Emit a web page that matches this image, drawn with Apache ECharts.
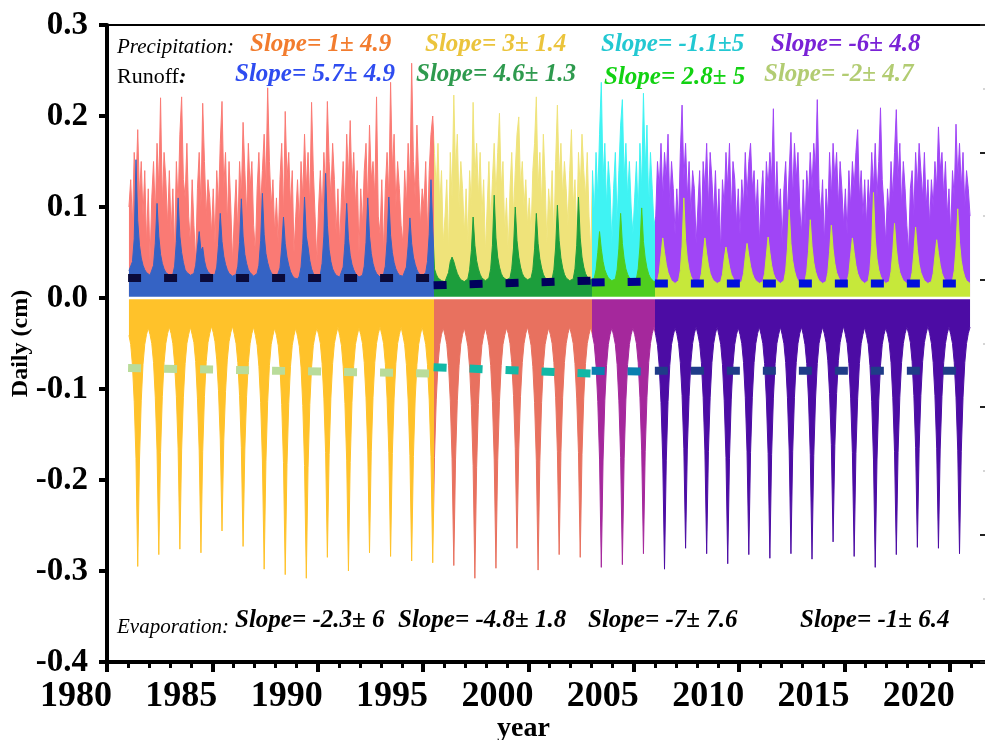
<!DOCTYPE html>
<html><head><meta charset="utf-8">
<script src="https://cdn.jsdelivr.net/npm/echarts@6/dist/echarts.min.js"></script>
<style>html,body{margin:0;padding:0;overflow:hidden;background:#fff;width:985px;height:740px}#c{width:1000px;height:740px}</style>
</head><body><div id="c"></div><script>
// ---------------- DATA ----------------
const startYear = 1981;                 // first year of monthly records (Jan..Dec per row)
const periodBreaks = [1981, 1995.5, 2003, 2006, 2021];

// Precipitation (cm/day), monthly, 1981..2020
const precipRows = [
 [0.10,0.13,0.08,0.16,0.12,0.185,0.11,0.15,0.09,0.14,0.06,0.12],
 [0.04,0.11,0.15,0.09,0.17,0.12,0.22,0.10,0.16,0.13,0.08,0.14],
 [0.07,0.12,0.05,0.15,0.10,0.18,0.221,0.13,0.11,0.17,0.09,0.06],
 [0.13,0.08,0.04,0.12,0.16,0.10,0.214,0.15,0.09,0.13,0.11,0.07],
 [0.12,0.06,0.14,0.10,0.17,0.216,0.12,0.16,0.08,0.15,0.10,0.04],
 [0.09,0.13,0.07,0.15,0.11,0.193,0.14,0.09,0.17,0.12,0.15,0.08],
 [0.05,0.12,0.16,0.10,0.14,0.18,0.12,0.231,0.15,0.10,0.13,0.07],
 [0.11,0.06,0.13,0.17,0.09,0.205,0.13,0.16,0.10,0.14,0.05,0.09],
 [0.13,0.08,0.15,0.11,0.18,0.12,0.16,0.10,0.215,0.14,0.09,0.04],
 [0.10,0.14,0.09,0.16,0.12,0.216,0.15,0.11,0.17,0.13,0.07,0.12],
 [0.06,0.11,0.15,0.09,0.18,0.13,0.195,0.12,0.16,0.10,0.14,0.05],
 [0.12,0.08,0.14,0.17,0.10,0.19,0.13,0.15,0.11,0.221,0.09,0.07],
 [0.13,0.05,0.12,0.16,0.11,0.237,0.14,0.18,0.10,0.15,0.12,0.08],
 [0.06,0.14,0.10,0.17,0.12,0.258,0.15,0.11,0.19,0.13,0.08,0.12],
 [0.10,0.15,0.07,0.14,0.18,0.20,0.159,0.12,0.17,0.10,0.14,0.06],
 [0.09,0.13,0.05,0.16,0.11,0.223,0.14,0.18,0.10,0.15,0.12,0.07],
 [0.12,0.06,0.14,0.10,0.215,0.13,0.17,0.11,0.16,0.09,0.13,0.05],
 [0.10,0.15,0.08,0.13,0.17,0.11,0.16,0.203,0.12,0.15,0.07,0.11],
 [0.05,0.12,0.16,0.09,0.14,0.18,0.199,0.12,0.15,0.10,0.13,0.08],
 [0.11,0.07,0.14,0.17,0.221,0.12,0.16,0.10,0.18,0.13,0.06,0.12],
 [0.09,0.14,0.06,0.15,0.212,0.13,0.17,0.11,0.15,0.12,0.08,0.14],
 [0.185,0.10,0.13,0.07,0.16,0.12,0.18,0.14,0.11,0.16,0.09,0.05],
 [0.14,0.09,0.16,0.11,0.18,0.237,0.13,0.17,0.10,0.15,0.12,0.06],
 [0.12,0.16,0.08,0.14,0.19,0.218,0.13,0.17,0.11,0.15,0.10,0.07],
 [0.11,0.15,0.09,0.17,0.12,0.225,0.14,0.19,0.10,0.16,0.12,0.08],
 [0.09,0.15,0.12,0.17,0.11,0.16,0.13,0.18,0.10,0.15,0.12,0.07],
 [0.12,0.08,0.16,0.212,0.13,0.17,0.11,0.15,0.09,0.14,0.12,0.06],
 [0.10,0.14,0.07,0.15,0.12,0.17,0.10,0.16,0.13,0.09,0.14,0.08],
 [0.12,0.05,0.13,0.10,0.16,0.12,0.17,0.09,0.15,0.13,0.08,0.12],
 [0.07,0.13,0.10,0.16,0.11,0.15,0.17,0.12,0.14,0.09,0.13,0.06],
 [0.11,0.14,0.08,0.15,0.12,0.16,0.13,0.208,0.10,0.15,0.09,0.12],
 [0.06,0.12,0.15,0.09,0.14,0.182,0.11,0.17,0.13,0.16,0.10,0.07],
 [0.13,0.08,0.14,0.11,0.16,0.12,0.17,0.14,0.218,0.12,0.09,0.13],
 [0.06,0.12,0.09,0.16,0.11,0.17,0.13,0.16,0.10,0.15,0.12,0.08],
 [0.12,0.07,0.14,0.10,0.15,0.12,0.16,0.185,0.11,0.14,0.09,0.13],
 [0.08,0.13,0.10,0.16,0.12,0.17,0.11,0.15,0.209,0.13,0.10,0.06],
 [0.12,0.09,0.15,0.11,0.16,0.207,0.13,0.17,0.10,0.15,0.12,0.08],
 [0.05,0.12,0.14,0.09,0.16,0.12,0.17,0.14,0.11,0.16,0.10,0.13],
 [0.08,0.13,0.10,0.15,0.12,0.188,0.14,0.16,0.11,0.15,0.09,0.12],
 [0.07,0.14,0.11,0.191,0.13,0.17,0.12,0.16,0.10,0.14,0.12,0.09]
];

// Runoff (cm/day), monthly, 1981..2020
const runoffRows = [
 [0.030,0.032,0.040,0.065,0.152,0.085,0.058,0.044,0.036,0.031,0.028,0.026],
 [0.025,0.027,0.036,0.060,0.104,0.068,0.048,0.038,0.032,0.028,0.026,0.025],
 [0.024,0.026,0.035,0.062,0.110,0.068,0.050,0.039,0.031,0.028,0.026,0.025],
 [0.025,0.027,0.036,0.055,0.073,0.052,0.056,0.041,0.033,0.029,0.027,0.025],
 [0.024,0.026,0.034,0.058,0.093,0.062,0.046,0.037,0.031,0.027,0.025,0.024],
 [0.024,0.026,0.035,0.061,0.109,0.068,0.048,0.038,0.031,0.028,0.026,0.024],
 [0.024,0.027,0.036,0.063,0.115,0.070,0.049,0.039,0.032,0.028,0.025,0.023],
 [0.022,0.024,0.033,0.056,0.089,0.060,0.045,0.036,0.029,0.025,0.022,0.020],
 [0.021,0.024,0.034,0.060,0.111,0.068,0.056,0.041,0.032,0.027,0.025,0.023],
 [0.023,0.026,0.038,0.068,0.137,0.080,0.053,0.040,0.032,0.028,0.025,0.023],
 [0.023,0.025,0.034,0.060,0.104,0.065,0.047,0.037,0.031,0.027,0.025,0.023],
 [0.023,0.025,0.035,0.061,0.110,0.068,0.049,0.038,0.031,0.027,0.025,0.023],
 [0.024,0.026,0.035,0.062,0.111,0.069,0.050,0.039,0.032,0.028,0.025,0.024],
 [0.024,0.026,0.034,0.057,0.088,0.060,0.045,0.037,0.031,0.027,0.025,0.024],
 [0.025,0.028,0.040,0.070,0.130,0.078,0.032,0.026,0.022,0.020,0.019,0.018],
 [0.018,0.020,0.028,0.040,0.045,0.040,0.033,0.027,0.023,0.020,0.019,0.018],
 [0.019,0.021,0.031,0.052,0.089,0.058,0.041,0.032,0.026,0.022,0.020,0.019],
 [0.019,0.022,0.032,0.058,0.113,0.066,0.045,0.034,0.027,0.023,0.021,0.020],
 [0.020,0.022,0.032,0.055,0.100,0.063,0.045,0.034,0.027,0.023,0.021,0.020],
 [0.020,0.022,0.031,0.054,0.093,0.060,0.043,0.033,0.026,0.022,0.020,0.019],
 [0.019,0.021,0.031,0.056,0.102,0.063,0.044,0.033,0.026,0.022,0.020,0.019],
 [0.019,0.021,0.032,0.058,0.111,0.066,0.045,0.034,0.027,0.023,0.021,0.020],
 [0.020,0.022,0.031,0.050,0.073,0.054,0.040,0.031,0.026,0.022,0.020,0.019],
 [0.019,0.021,0.031,0.054,0.093,0.060,0.043,0.032,0.026,0.022,0.020,0.019],
 [0.019,0.021,0.032,0.056,0.099,0.062,0.044,0.033,0.026,0.022,0.020,0.018],
 [0.017,0.019,0.028,0.047,0.066,0.050,0.037,0.028,0.023,0.019,0.017,0.016],
 [0.016,0.019,0.030,0.057,0.110,0.064,0.043,0.031,0.024,0.020,0.018,0.016],
 [0.016,0.018,0.027,0.047,0.066,0.049,0.036,0.027,0.022,0.019,0.017,0.016],
 [0.016,0.018,0.026,0.043,0.056,0.045,0.034,0.026,0.022,0.018,0.017,0.016],
 [0.016,0.018,0.027,0.045,0.060,0.047,0.035,0.027,0.022,0.019,0.017,0.016],
 [0.016,0.018,0.027,0.047,0.067,0.050,0.036,0.027,0.022,0.019,0.017,0.016],
 [0.016,0.019,0.030,0.054,0.097,0.060,0.041,0.030,0.023,0.019,0.017,0.016],
 [0.016,0.018,0.029,0.051,0.086,0.057,0.039,0.029,0.023,0.019,0.017,0.016],
 [0.016,0.018,0.028,0.050,0.080,0.054,0.038,0.028,0.023,0.019,0.017,0.016],
 [0.016,0.018,0.027,0.047,0.066,0.050,0.036,0.027,0.022,0.019,0.017,0.016],
 [0.016,0.019,0.031,0.058,0.116,0.066,0.043,0.031,0.024,0.020,0.018,0.016],
 [0.016,0.018,0.029,0.051,0.082,0.055,0.038,0.028,0.023,0.019,0.017,0.016],
 [0.016,0.018,0.028,0.050,0.078,0.053,0.037,0.028,0.023,0.019,0.017,0.016],
 [0.016,0.018,0.027,0.046,0.064,0.049,0.036,0.027,0.022,0.019,0.017,0.016],
 [0.016,0.019,0.030,0.055,0.098,0.061,0.041,0.030,0.023,0.019,0.017,0.016]
];

// Evaporation (cm/day, negative), monthly, 1981..2020
const evapRows = [
 [-0.041,-0.051,-0.074,-0.114,-0.176,-0.295,-0.178,-0.113,-0.073,-0.051,-0.040,-0.033],
 [-0.040,-0.050,-0.071,-0.109,-0.168,-0.282,-0.170,-0.108,-0.071,-0.050,-0.039,-0.032],
 [-0.039,-0.050,-0.072,-0.108,-0.165,-0.276,-0.167,-0.109,-0.072,-0.050,-0.040,-0.032],
 [-0.040,-0.049,-0.070,-0.110,-0.168,-0.280,-0.169,-0.108,-0.070,-0.049,-0.039,-0.031],
 [-0.038,-0.048,-0.068,-0.102,-0.155,-0.256,-0.157,-0.103,-0.068,-0.048,-0.038,-0.031],
 [-0.040,-0.050,-0.071,-0.107,-0.164,-0.273,-0.166,-0.108,-0.071,-0.050,-0.039,-0.032],
 [-0.041,-0.052,-0.075,-0.115,-0.178,-0.298,-0.180,-0.114,-0.074,-0.051,-0.041,-0.033],
 [-0.041,-0.052,-0.075,-0.117,-0.181,-0.304,-0.183,-0.116,-0.075,-0.052,-0.041,-0.033],
 [-0.042,-0.053,-0.076,-0.118,-0.184,-0.308,-0.186,-0.117,-0.076,-0.052,-0.041,-0.033],
 [-0.040,-0.050,-0.072,-0.110,-0.170,-0.285,-0.172,-0.110,-0.072,-0.050,-0.040,-0.032],
 [-0.041,-0.052,-0.075,-0.116,-0.179,-0.300,-0.181,-0.115,-0.074,-0.051,-0.041,-0.033],
 [-0.040,-0.050,-0.071,-0.109,-0.167,-0.280,-0.169,-0.109,-0.071,-0.050,-0.039,-0.032],
 [-0.040,-0.050,-0.072,-0.110,-0.170,-0.284,-0.171,-0.110,-0.072,-0.050,-0.040,-0.032],
 [-0.041,-0.051,-0.073,-0.112,-0.173,-0.289,-0.174,-0.111,-0.073,-0.051,-0.040,-0.032],
 [-0.041,-0.051,-0.073,-0.112,-0.174,-0.291,-0.175,-0.112,-0.073,-0.051,-0.040,-0.033],
 [-0.041,-0.051,-0.074,-0.113,-0.176,-0.294,-0.177,-0.113,-0.074,-0.051,-0.040,-0.033],
 [-0.042,-0.053,-0.076,-0.118,-0.184,-0.308,-0.186,-0.117,-0.076,-0.052,-0.041,-0.033],
 [-0.041,-0.052,-0.074,-0.114,-0.177,-0.297,-0.179,-0.114,-0.074,-0.051,-0.041,-0.033],
 [-0.039,-0.050,-0.071,-0.107,-0.165,-0.275,-0.166,-0.108,-0.071,-0.050,-0.039,-0.032],
 [-0.041,-0.052,-0.075,-0.115,-0.179,-0.299,-0.180,-0.115,-0.074,-0.051,-0.041,-0.033],
 [-0.040,-0.050,-0.071,-0.109,-0.169,-0.282,-0.170,-0.109,-0.071,-0.050,-0.039,-0.032],
 [-0.040,-0.050,-0.072,-0.110,-0.170,-0.285,-0.172,-0.110,-0.072,-0.050,-0.040,-0.032],
 [-0.041,-0.051,-0.074,-0.114,-0.177,-0.296,-0.178,-0.113,-0.074,-0.051,-0.040,-0.033],
 [-0.041,-0.051,-0.073,-0.113,-0.175,-0.293,-0.176,-0.112,-0.073,-0.051,-0.040,-0.033],
 [-0.040,-0.050,-0.071,-0.109,-0.168,-0.281,-0.169,-0.109,-0.071,-0.050,-0.039,-0.032],
 [-0.041,-0.052,-0.075,-0.115,-0.178,-0.298,-0.179,-0.114,-0.074,-0.051,-0.041,-0.033],
 [-0.039,-0.050,-0.071,-0.107,-0.165,-0.275,-0.166,-0.108,-0.071,-0.050,-0.039,-0.032],
 [-0.040,-0.050,-0.071,-0.109,-0.168,-0.281,-0.169,-0.109,-0.071,-0.050,-0.039,-0.032],
 [-0.041,-0.051,-0.073,-0.113,-0.175,-0.292,-0.176,-0.112,-0.073,-0.051,-0.040,-0.033],
 [-0.040,-0.050,-0.071,-0.109,-0.169,-0.282,-0.170,-0.109,-0.071,-0.050,-0.039,-0.032],
 [-0.040,-0.050,-0.072,-0.111,-0.171,-0.286,-0.172,-0.110,-0.072,-0.050,-0.040,-0.032],
 [-0.040,-0.050,-0.071,-0.109,-0.168,-0.281,-0.169,-0.109,-0.071,-0.050,-0.039,-0.032],
 [-0.040,-0.051,-0.072,-0.111,-0.172,-0.287,-0.173,-0.111,-0.072,-0.050,-0.040,-0.032],
 [-0.039,-0.049,-0.069,-0.105,-0.161,-0.268,-0.162,-0.105,-0.069,-0.049,-0.039,-0.031],
 [-0.040,-0.050,-0.072,-0.110,-0.170,-0.284,-0.171,-0.110,-0.072,-0.050,-0.040,-0.032],
 [-0.041,-0.051,-0.074,-0.114,-0.177,-0.296,-0.178,-0.113,-0.074,-0.051,-0.040,-0.033],
 [-0.040,-0.050,-0.071,-0.109,-0.169,-0.282,-0.170,-0.109,-0.071,-0.050,-0.039,-0.032],
 [-0.039,-0.049,-0.070,-0.107,-0.164,-0.274,-0.165,-0.107,-0.070,-0.049,-0.039,-0.031],
 [-0.039,-0.050,-0.071,-0.107,-0.165,-0.275,-0.166,-0.108,-0.071,-0.050,-0.039,-0.032],
 [-0.040,-0.050,-0.071,-0.109,-0.168,-0.281,-0.169,-0.109,-0.071,-0.050,-0.039,-0.032]
];

// Period mean (trend) lines: value at period start / end
const runoffMeanStart = [0.022, 0.014, 0.017, 0.016];
const runoffMeanEnd   = [0.022, 0.019, 0.018, 0.016];
const evapMeanStart   = [-0.077, -0.076, -0.080, -0.080];
const evapMeanEnd     = [-0.083, -0.083, -0.081, -0.080];

// Annotation texts
const precipSlopes = ['Slope= 1\u00b1 4.9', 'Slope= 3\u00b1 1.4', 'Slope= -1.1\u00b15', 'Slope= -6\u00b1 4.8'];
const runoffSlopes = ['Slope= 5.7\u00b1 4.9', 'Slope= 4.6\u00b1 1.3', 'Slope= 2.8\u00b1 5', 'Slope= -2\u00b1 4.7'];
const evapSlopes   = ['Slope= -2.3\u00b1 6', 'Slope= -4.8\u00b1 1.8', 'Slope= -7\u00b1 7.6', 'Slope= -1\u00b1 6.4'];

// ---------------- STYLE ----------------
const precipColors = ['#FA7A74', '#EFE37A', '#3FF3F3', '#A045F6'];
const runoffColors = ['#3563C4', '#1C9E3C', '#4FCE1E', '#C6E83A'];
const evapColors   = ['#FFC22A', '#E8715F', '#A5289C', '#4C0CA4'];
const runoffMeanColors = ['#0B0B3B', '#00005C', '#00008E', '#0010DC'];
const evapMeanColors   = ['#B9DC9A', '#12B8A6', '#0A7FB0', '#1F3C88'];
const precipTextColors = ['#F27C2E', '#EBC43C', '#22C8D2', '#7A22D6'];
const runoffTextColors = ['#2E4CF0', '#2E9A4E', '#12D212', '#B2CC72'];
const FONT = '"Liberation Serif","Times New Roman",serif';

// ---------------- BUILD ----------------
function monthly(rows) {
  const out = [];
  rows.forEach((r, yi) => r.forEach((v, m) => out.push([startYear + yi + (m + 0.5) / 12, v])));
  return out;
}
function pieces(colors) {
  return colors.map((c, i) => ({ gte: periodBreaks[i], lt: periodBreaks[i + 1], color: c }));
}
function areaSeries(name, data, z) {
  return { type: 'line', name, data, symbol: 'none', showSymbol: false, silent: true,
    lineStyle: { width: 1 }, areaStyle: { opacity: 1 }, z, animation: false };
}
function meanSeries(starts, ends, colors) {
  return starts.map((s, i) => ({
    type: 'line', symbol: 'none', silent: true, z: 6,
    data: [[periodBreaks[i], s], [periodBreaks[i + 1], ends[i]]],
    lineStyle: { color: colors[i], width: 8, type: [13, 23], cap: 'butt' }
  }));
}

const series = [
  areaSeries('Precipitation', monthly(precipRows), 1),
  areaSeries('Runoff', monthly(runoffRows), 2),
  areaSeries('Evaporation', monthly(evapRows), 2),
  { type: 'line', symbol: 'none', silent: true, z: 4,
    data: [[periodBreaks[0], 0], [periodBreaks[periodBreaks.length - 1], 0]],
    lineStyle: { color: '#ffffff', width: 2.5 } }
].concat(meanSeries(runoffMeanStart, runoffMeanEnd, runoffMeanColors))
 .concat(meanSeries(evapMeanStart, evapMeanEnd, evapMeanColors));

function txt(x, y, text, color, font) {
  return { type: 'text', silent: true, z: 100,
    style: { x, y, text, fill: color, font, textAlign: 'left', textVerticalAlign: 'middle' } };
}
const slopeFont = 'italic bold 25px ' + FONT;
const graphic = [
  txt(117, 47, 'Precipitation:', '#000', 'italic 21px ' + FONT),
  txt(117, 77, 'Runoff', '#000', '22px ' + FONT),
  txt(179, 77, ':', '#000', 'italic bold 22px ' + FONT),
  txt(117, 627, 'Evaporation:', '#000', 'italic 21px ' + FONT),
  txt(497, 729, 'year', '#000', 'bold 28px ' + FONT)
];
[250, 425, 601, 771].forEach((x, i) => graphic.push(txt(x, 45, precipSlopes[i], precipTextColors[i], slopeFont)));
[235, 416, 604, 764].forEach((x, i) => graphic.push(txt(x, i === 2 ? 78 : 75, runoffSlopes[i], runoffTextColors[i], slopeFont)));
[235, 398, 588, 800].forEach((x, i) => graphic.push(txt(x, 621, evapSlopes[i], '#000', slopeFont)));

const option = {
  animation: false,
  backgroundColor: '#fff',
  grid: { left: 107, right: 8, top: 25, bottom: 78, containLabel: false, outerBoundsMode: 'none' },
  xAxis: [
    { type: 'value', min: 1980, max: 2022, interval: 5, position: 'bottom',
      axisLine: { onZero: false, lineStyle: { color: '#000', width: 4 } },
      axisTick: { show: true, inside: false, length: 10, lineStyle: { color: '#000', width: 4 } },
      minorTick: { show: true, splitNumber: 5, length: 6, lineStyle: { color: '#000', width: 3 } },
      splitLine: { show: false }, minorSplitLine: { show: false },
      axisLabel: { color: '#000', fontFamily: FONT, fontWeight: 'bold', fontSize: 36, align: 'right', margin: 17,
        padding: [0, -5, 0, 0], formatter: v => String(v) } },
    { type: 'value', min: 1980, max: 2022, position: 'top',
      axisLine: { onZero: false, lineStyle: { color: '#000', width: 2 } },
      axisTick: { show: false }, axisLabel: { show: false }, splitLine: { show: false } }
  ],
  yAxis: [
    { type: 'value', min: -0.4, max: 0.3, interval: 0.1, position: 'left',
      name: 'Daily (cm)', nameLocation: 'middle', nameGap: 74, nameRotate: 90, nameMoveOverlap: false,
      nameTextStyle: { color: '#000', fontFamily: FONT, fontWeight: 'bold', fontSize: 24 },
      axisLine: { onZero: false, lineStyle: { color: '#000', width: 4 } },
      axisTick: { show: true, inside: false, length: 8, lineStyle: { color: '#000', width: 4 } },
      splitLine: { show: false },
      axisLabel: { color: '#000', fontFamily: FONT, fontWeight: 'bold', fontSize: 33, margin: 19,
        formatter: v => v.toFixed(1) } },
    { type: 'value', min: 0, max: 5, interval: 1, position: 'right',
      axisLine: { show: false },
      axisTick: { show: true, inside: true, length: 12, lineStyle: { color: '#222', width: 2 } },
      minorTick: { show: true, splitNumber: 2, length: 9, lineStyle: { color: '#c8c8c8', width: 1.5 } },
      axisLabel: { show: false }, splitLine: { show: false } }
  ],
  visualMap: [
    { show: false, type: 'piecewise', seriesIndex: 0, dimension: 0, pieces: pieces(precipColors), outOfRange: { color: '#999' } },
    { show: false, type: 'piecewise', seriesIndex: 1, dimension: 0, pieces: pieces(runoffColors), outOfRange: { color: '#999' } },
    { show: false, type: 'piecewise', seriesIndex: 2, dimension: 0, pieces: pieces(evapColors), outOfRange: { color: '#999' } }
  ],
  series,
  graphic
};
const chart = echarts.init(document.getElementById('c'), null, { renderer: 'canvas' });
chart.setOption(option);
</script></body></html>
